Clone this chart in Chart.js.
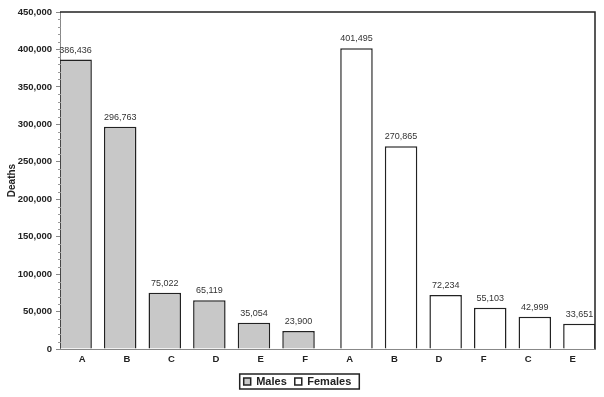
<!DOCTYPE html>
<html>
<head>
<meta charset="utf-8">
<script src="https://cdn.jsdelivr.net/npm/chart.js@4"></script>
<style>
  html, body { margin: 0; padding: 0; background: #fff; }
  #wrap { width: 604px; height: 397px; }
</style>
</head>
<body>
<div id="wrap"><canvas id="deathsChart" width="604" height="397"></canvas></div>
<script>
// Datos
const causeLabels = ['A', 'B', 'C', 'D', 'E', 'F', 'A', 'B', 'D', 'F', 'C', 'E'];
const maleDeaths = [386436, 296763, 75022, 65119, 35054, 23900, null, null, null, null, null, null];
const femaleDeaths = [null, null, null, null, null, null, 401495, 270865, 72234, 55103, 42999, 33651];
const yTickMax = 450000;
const yMajorStep = 50000;
const yMinorStep = 10000;

const FONT = "'Liberation Sans', Arial, sans-serif";

// Etiquetas de valor encima de cada barra
const valueLabels = {
    id: 'valueLabels',
    afterDatasetsDraw(chart) {
        const ctx = chart.ctx;
        ctx.save();
        ctx.font = "9px " + FONT;
        ctx.fillStyle = '#333';
        ctx.textAlign = 'center';
        ctx.textBaseline = 'bottom';
        chart.data.datasets.forEach((ds, i) => {
            const meta = chart.getDatasetMeta(i);
            meta.data.forEach((bar, j) => {
                const v = ds.data[j];
                if (v === null) return;
                ctx.fillText(v.toLocaleString('en-US'), bar.x, bar.y - 5);
            });
        });
        ctx.restore();
    }
};

// Marco superior y derecho, ticks menores y recuadro de la leyenda
const frameAndTicks = {
    id: 'frameAndTicks',
    afterDraw(chart) {
        const ctx = chart.ctx;
        const area = chart.chartArea;
        const y = chart.scales.y;
        ctx.save();
        ctx.strokeStyle = '#222';
        ctx.lineWidth = 1.5;
        ctx.beginPath();
        ctx.moveTo(area.left, area.top);
        ctx.lineTo(area.right, area.top);
        ctx.lineTo(area.right, area.bottom);
        ctx.stroke();

        ctx.strokeStyle = '#999';
        ctx.lineWidth = 1;
        for (let v = yMinorStep; v < yTickMax; v += yMinorStep) {
            if (v % yMajorStep === 0) continue;
            const py = Math.round(y.getPixelForValue(v)) + 0.5;
            ctx.beginPath();
            ctx.moveTo(area.left - 2, py);
            ctx.lineTo(area.left + 1, py);
            ctx.stroke();
        }

        const boxes = chart.legend.legendHitBoxes;
        if (boxes && boxes.length) {
            const left = Math.min(...boxes.map(b => b.left)) - 4;
            const right = Math.max(...boxes.map(b => b.left + b.width)) + 8;
            const top = Math.min(...boxes.map(b => b.top)) - 2;
            const bottom = Math.max(...boxes.map(b => b.top + b.height)) + 2;
            ctx.strokeStyle = '#222';
            ctx.lineWidth = 1.5;
            ctx.strokeRect(left, top, right - left, bottom - top);
        }
        ctx.restore();
    }
};

const ctx = document.getElementById('deathsChart').getContext('2d');
new Chart(ctx, {
    type: 'bar',
    data: {
        labels: causeLabels,
        datasets: [
            {
                label: 'Males',
                data: maleDeaths,
                backgroundColor: '#c8c8c8',
                borderColor: '#222',
                borderWidth: 1.5,
                categoryPercentage: 0.6,
                barPercentage: 2.43
            },
            {
                label: 'Females',
                data: femaleDeaths,
                backgroundColor: '#ffffff',
                borderColor: '#222',
                borderWidth: 1.5,
                categoryPercentage: 0.6,
                barPercentage: 2.43
            }
        ]
    },
    options: {
        responsive: false,
        animation: false,
        devicePixelRatio: 1,
        layout: { padding: { top: 12, right: 9, bottom: 0, left: 0 } },
        plugins: {
            legend: {
                position: 'bottom',
                labels: {
                    boxWidth: 7,
                    boxHeight: 7,
                    padding: 8,
                    color: '#222',
                    font: { family: FONT, size: 11, weight: 'bold' }
                }
            },
            tooltip: { enabled: false }
        },
        scales: {
            x: {
                grid: { display: false, drawTicks: false },
                border: { display: true, color: '#888', width: 1 },
                ticks: {
                    padding: 5,
                    color: '#222',
                    font: { family: FONT, size: 9.5, weight: 'bold' }
                },
                afterFit(scale) { scale.height = 19; }
            },
            y: {
                min: 0,
                max: yTickMax,
                ticks: {
                    stepSize: yMajorStep,
                    padding: 4,
                    color: '#222',
                    font: { family: FONT, size: 9.5, weight: 'bold' },
                    callback: v => v.toLocaleString('en-US')
                },
                grid: { drawOnChartArea: false, tickLength: 4, color: '#888' },
                border: { display: true, color: '#888', width: 1 },
                title: {
                    display: true,
                    text: 'Deaths',
                    color: '#222',
                    padding: { top: 6, bottom: 0 },
                    font: { family: FONT, size: 10, weight: 'bold' }
                },
                afterFit(scale) { scale.width = 60; }
            }
        }
    },
    plugins: [valueLabels, frameAndTicks]
});
</script>
</body>
</html>
